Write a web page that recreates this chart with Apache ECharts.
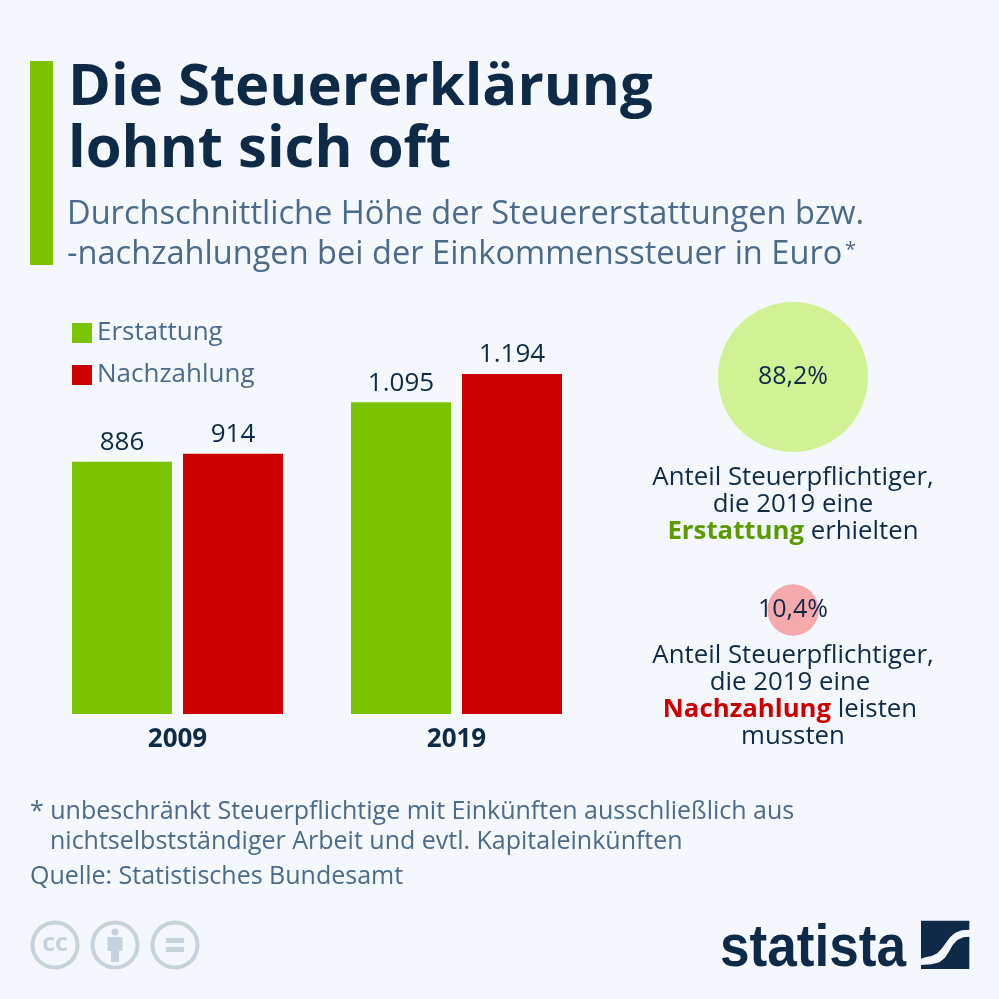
<!DOCTYPE html>
<html><head><meta charset="utf-8">
<style>html,body{margin:0;padding:0;background:#f4f8fc}#c{width:999px;height:999px}</style>
<script src="https://cdn.jsdelivr.net/npm/echarts@6/dist/echarts.min.js"></script></head>
<body><div id="c"></div>
<script>
const years = ['2009','2019'];
const erstattung = [886,1095];
const nachzahlung = [914,1194];
const shareLabels = ['Erstattung','Nachzahlung'];
const shareValues = [88.2,10.4];
const shareColors = ['#d0f295','#f5a9ad'];
const DARK='#0f2a47', SUB='#4c6a8a', GREEN='#7dc400', RED='#cc0000', GREY='#c6d3dc', F='"Open Sans"';
const fmt = v => String(v).replace(/\B(?=(\d{3})+$)/,'.');
function txt(x,y,text,size,color,o){return {type:'text',x,y,silent:true,style:Object.assign({text,fill:color,fontFamily:F,fontSize:size,textAlign:'left',textVerticalAlign:'middle'},o||{})};}
const TS=25.8;
const rich={g:{fill:'#5c9a00',fontWeight:'bold',fontFamily:F,fontSize:TS},r:{fill:'#cc0000',fontWeight:'bold',fontFamily:F,fontSize:TS},n:{fill:DARK,fontFamily:F,fontSize:TS}};
function mid(x,y,parts){return {type:'text',x,y,silent:true,style:{rich,text:parts,textAlign:'center',textVerticalAlign:'middle',fontFamily:F,fontSize:TS,fill:DARK}};}
const toLogo=p=>p.map(([X,Y])=>[700+X/3,905+Y/3]);
const logoA=toLogo([[663,47],[808,47],[808,74],[785,76],[765,84],[750,97],[738,113],[726,130],[712,145],[695,153],[675,157],[663,161]]);
const logoB=toLogo([[808,95],[790,97],[772,105],[758,120],[748,138],[735,158],[718,172],[695,178],[663,180],[663,192],[808,192]]);
const chart=echarts.init(document.getElementById('c'),null,{renderer:'canvas'});
chart.setOption({
 animation:false,backgroundColor:'#f4f8fc',textStyle:{fontFamily:F},
 legend:{left:72,top:320,orient:'vertical',itemWidth:20,itemHeight:20,itemGap:16,icon:'rect',selectedMode:false,padding:0,
   data:['Erstattung','Nachzahlung'],textStyle:{fontSize:26,color:SUB,fontFamily:F}},
 grid:[{left:38,width:558,top:315.4,height:398.6},{left:693,width:200,top:260.5,height:466}],
 xAxis:[{type:'category',gridIndex:0,data:years,axisLine:{show:false},axisTick:{show:false},
   axisLabel:{fontSize:26,fontWeight:'bold',color:DARK,fontFamily:F,margin:13}},
   {type:'category',gridIndex:1,data:['Anteil'],show:false}],
 yAxis:[{type:'value',gridIndex:0,min:0,max:1400,show:false},
   {type:'category',gridIndex:1,data:shareLabels,inverse:true,show:false}],
 series:[
  {name:'Erstattung',type:'bar',data:erstattung,barWidth:100,barGap:'11%',itemStyle:{color:GREEN},
   label:{show:true,position:'top',distance:6,fontSize:26,color:DARK,fontFamily:F,formatter:p=>fmt(p.value)}},
  {name:'Nachzahlung',type:'bar',data:nachzahlung,barWidth:100,itemStyle:{color:RED},
   label:{show:true,position:'top',distance:6,fontSize:26,color:DARK,fontFamily:F,formatter:p=>fmt(p.value)}},
  {type:'scatter',xAxisIndex:1,yAxisIndex:1,
   data:shareValues.map((v,i)=>({value:['Anteil',shareLabels[i],v],itemStyle:{color:shareColors[i],opacity:1}})),
   symbolSize:d=>150*Math.sqrt(d[2]/88.2),
   label:{show:true,position:'inside',fontSize:25,color:DARK,fontFamily:F,formatter:p=>String(p.value[2]).replace('.',',')+'%'}}
 ],
 graphic:{elements:[
  {type:'rect',silent:true,shape:{x:30,y:61,width:23,height:204},style:{fill:GREEN}},
  txt(68,88,'Die Steuererklärung',58,DARK,{fontWeight:'bold'}),
  txt(68,150,'lohnt sich oft',58,DARK,{fontWeight:'bold'}),
  txt(67,215,'Durchschnittliche Höhe der Steuererstattungen bzw.',32.6,SUB),
  txt(67,255,'-nachzahlungen bei der Einkommenssteuer in Euro',32.6,SUB),
  txt(845,250,'*',20,SUB),
  mid(793,478,'{n|Anteil Steuerpflichtiger,}'),
  mid(793,505,'{n|die 2019 eine}'),
  mid(793,532,'{g|Erstattung} {n|erhielten}'),
  mid(793,656,'{n|Anteil Steuerpflichtiger,}'),
  mid(790,683,'{n|die 2019 eine}'),
  mid(790,710,'{r|Nachzahlung} {n|leisten}'),
  mid(793,737,'{n|mussten}'),
  txt(30,812,'* unbeschränkt Steuerpflichtige mit Einkünften ausschließlich aus',25,SUB),
  txt(50,842,'nichtselbstständiger Arbeit und evtl. Kapitaleinkünften',25,SUB),
  txt(30,877,'Quelle: Statistisches Bundesamt',25,SUB),
  ...[55,115,175].map(x=>({type:'circle',silent:true,shape:{cx:x,cy:945,r:22.5},style:{fill:'none',stroke:GREY,lineWidth:4}})),
  txt(55,944,'cc',25,GREY,{fontWeight:'bold',textAlign:'center'}),
  {type:'circle',silent:true,shape:{cx:115,cy:932,r:3.5},style:{fill:GREY}},
  {type:'rect',silent:true,shape:{x:107.5,y:937,width:15,height:14},style:{fill:GREY}},
  {type:'rect',silent:true,shape:{x:111,y:950,width:8,height:12},style:{fill:GREY}},
  {type:'rect',silent:true,shape:{x:166,y:938,width:18,height:5},style:{fill:GREY}},
  {type:'rect',silent:true,shape:{x:166,y:947,width:18,height:5},style:{fill:GREY}},
  {type:'text',silent:true,x:720,y:949,scaleX:0.886,style:{text:'statista',fill:DARK,fontFamily:'"Liberation Sans"',fontWeight:'bold',fontSize:60,textAlign:'left',textVerticalAlign:'middle'}},
  {type:'polygon',silent:true,shape:{points:logoA},style:{fill:DARK}},
  {type:'polygon',silent:true,shape:{points:logoB},style:{fill:DARK}}
 ]}
});
</script></body></html>
